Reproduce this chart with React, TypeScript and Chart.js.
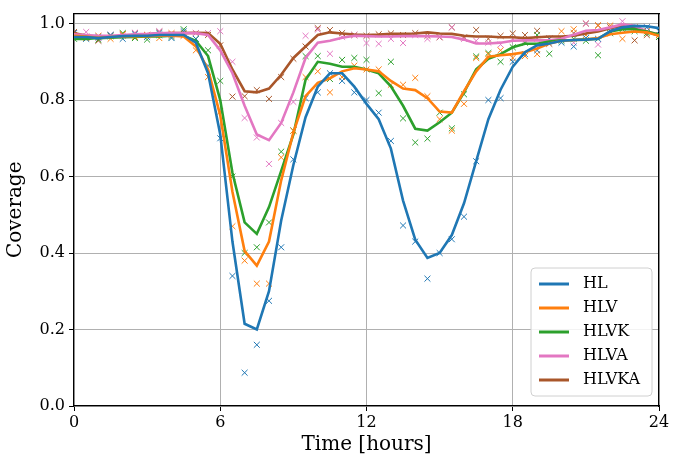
import { useEffect, useRef } from 'react';
import Chart from 'chart.js/auto';

// hours, half-hour steps
const hours = [
  0, 0.5, 1, 1.5, 2, 2.5, 3, 3.5, 4, 4.5, 5, 5.5, 6, 6.5, 7, 7.5, 8, 8.5, 9, 9.5,
  10, 10.5, 11, 11.5, 12, 12.5, 13, 13.5, 14, 14.5, 15, 15.5, 16, 16.5, 17, 17.5,
  18, 18.5, 19, 19.5, 20, 20.5, 21, 21.5, 22, 22.5, 23, 23.5, 24,
];

const seriesNames = ['HL', 'HLV', 'HLVK', 'HLVA', 'HLVKA'];
const seriesColors = ['#1f77b4', '#ff7f0e', '#2ca02c', '#e377c2', '#a9562a'];

// smoothed lines
const hlLine = [
  0.965, 0.965, 0.962, 0.965, 0.967, 0.968, 0.968, 0.97, 0.97, 0.97, 0.95, 0.87, 0.71, 0.43, 0.215, 0.2, 0.3, 0.485, 0.63, 0.755,
  0.835, 0.87, 0.87, 0.835, 0.79, 0.75, 0.673, 0.537, 0.435, 0.387, 0.4, 0.447, 0.53, 0.64, 0.75, 0.827,
  0.887, 0.925, 0.943, 0.948, 0.955, 0.957, 0.958, 0.96, 0.98, 0.99, 0.994, 0.993, 0.988,
];
const hlvLine = [
  0.968, 0.966, 0.963, 0.965, 0.966, 0.967, 0.967, 0.968, 0.968, 0.966, 0.94, 0.88, 0.76, 0.56, 0.405, 0.367, 0.43, 0.59, 0.715, 0.81,
  0.845, 0.857, 0.875, 0.883, 0.88, 0.875, 0.85, 0.83, 0.826, 0.805, 0.77, 0.767, 0.823, 0.875, 0.913, 0.917,
  0.92, 0.925, 0.935, 0.948, 0.955, 0.957, 0.958, 0.962, 0.972, 0.976, 0.979, 0.977, 0.968,
];
const hlvkLine = [
  0.96, 0.96, 0.962, 0.963, 0.964, 0.965, 0.966, 0.966, 0.968, 0.968, 0.955, 0.915, 0.8, 0.61, 0.48, 0.45, 0.52, 0.615, 0.71, 0.853,
  0.9, 0.895, 0.887, 0.887, 0.88, 0.87, 0.836, 0.785, 0.725, 0.72, 0.742, 0.767, 0.82, 0.88, 0.908, 0.92,
  0.938, 0.947, 0.947, 0.953, 0.956, 0.957, 0.959, 0.96, 0.979, 0.985, 0.985, 0.979, 0.971,
];
const hlvaLine = [
  0.972, 0.97, 0.968, 0.968, 0.97, 0.972, 0.973, 0.975, 0.975, 0.975, 0.975, 0.97, 0.93, 0.87, 0.785, 0.71, 0.695, 0.74, 0.82, 0.91,
  0.95, 0.955, 0.963, 0.968, 0.967, 0.966, 0.966, 0.967, 0.967, 0.967, 0.966, 0.965, 0.958, 0.948, 0.948, 0.95,
  0.955, 0.956, 0.956, 0.956, 0.96, 0.971, 0.981, 0.983, 0.99, 0.998, 0.994, 0.979, 0.971,
];
const hlvkaLine = [
  0.975, 0.968, 0.962, 0.965, 0.968, 0.97, 0.972, 0.974, 0.975, 0.975, 0.976, 0.975, 0.947, 0.88, 0.823, 0.82, 0.83, 0.866, 0.91, 0.94,
  0.97, 0.977, 0.974, 0.971, 0.97, 0.971, 0.973, 0.973, 0.974, 0.977, 0.974, 0.973, 0.968, 0.966, 0.966, 0.964,
  0.964, 0.962, 0.964, 0.966, 0.966, 0.968, 0.974, 0.979, 0.988, 0.994, 0.991, 0.979, 0.968,
];

// raw measurements (crosses)
const hlRaw = [
  0.975, 0.96, 0.965, 0.97, 0.96, 0.972, 0.965, 0.975, 0.962, 0.98, 0.96, 0.89, 0.7, 0.34, 0.087, 0.16, 0.275, 0.415, 0.645, 0.805,
  0.82, 0.87, 0.85, 0.82, 0.8, 0.767, 0.693, 0.472, 0.43, 0.333, 0.4, 0.436, 0.495, 0.64, 0.8, 0.805,
  0.9, 0.92, 0.93, 0.96, 0.95, 0.94, 0.962, 0.96, 0.98, 0.99, 0.985, 0.99, 0.98,
];
const hlvRaw = [
  0.97, 0.962, 0.968, 0.96, 0.972, 0.965, 0.97, 0.962, 0.975, 0.968, 0.93, 0.86, 0.77, 0.47, 0.38, 0.32, 0.32, 0.65, 0.72, 0.86,
  0.875, 0.82, 0.86, 0.89, 0.88, 0.88, 0.84, 0.84, 0.858, 0.81, 0.75, 0.72, 0.79, 0.91, 0.92, 0.93,
  0.91, 0.915, 0.92, 0.96, 0.98, 0.985, 0.97, 0.995, 0.995, 0.96, 0.99, 0.98, 0.97,
];
const hlvkRaw = [
  0.96, 0.965, 0.958, 0.968, 0.975, 0.962, 0.958, 0.97, 0.965, 0.985, 0.96, 0.93, 0.85, 0.6, 0.4, 0.415, 0.48, 0.665, 0.72, 0.915,
  0.915, 0.855, 0.905, 0.91, 0.905, 0.818, 0.9, 0.752, 0.689, 0.699, 0.767, 0.726, 0.815, 0.914, 0.923, 0.9,
  0.938, 0.95, 0.97, 0.921, 0.955, 0.96, 0.955, 0.917, 0.975, 0.985, 0.98, 0.975, 0.965,
];
const hlvaRaw = [
  0.975, 0.978, 0.962, 0.97, 0.968, 0.976, 0.97, 0.98, 0.972, 0.97, 0.975, 0.975, 0.98, 0.9, 0.753, 0.702, 0.633, 0.74, 0.795, 0.968,
  0.984, 0.921, 0.965, 0.97, 0.949, 0.947, 0.96, 0.949, 0.97, 0.96, 0.965, 0.99, 0.96, 0.955, 0.95, 0.945,
  0.96, 0.955, 0.96, 0.96, 0.96, 0.95, 1.0, 0.945, 0.98, 1.006, 0.99, 0.99, 0.97,
];
const hlvkaRaw = [
  0.978, 0.965, 0.955, 0.968, 0.972, 0.975, 0.97, 0.978, 0.97, 0.975, 0.975, 0.97, 0.943, 0.809, 0.81, 0.826, 0.803, 0.86, 0.908, 0.94,
  0.988, 0.983, 0.975, 0.97, 0.968, 0.972, 0.974, 0.97, 0.975, 0.968, 0.964, 0.99, 0.964, 0.983, 0.96, 0.968,
  0.974, 0.97, 0.981, 0.947, 0.96, 0.975, 1.0, 0.995, 0.99, 0.99, 0.956, 0.97, 0.965,
];

const lines = [hlLine, hlvLine, hlvkLine, hlvaLine, hlvkaLine];
const raws = [hlRaw, hlvRaw, hlvkRaw, hlvaRaw, hlvkaRaw];

const FONT = "'DejaVu Serif', serif";

// matplotlib-like legend in the lower right of the axes
const legendBox = {
  id: 'legendBox',
  afterDraw(chart: any) {
    const { ctx, chartArea } = chart;
    const w = 121;
    const h = 128;
    const x = chartArea.right - 7 - w;
    const y = chartArea.bottom - 10 - h;
    ctx.save();
    ctx.fillStyle = 'rgba(255,255,255,0.85)';
    ctx.strokeStyle = '#d0d0d0';
    ctx.lineWidth = 1;
    ctx.beginPath();
    ctx.roundRect(x, y, w, h, 4);
    ctx.fill();
    ctx.stroke();
    ctx.font = `16px ${FONT}`;
    ctx.textBaseline = 'middle';
    seriesNames.forEach((name, i) => {
      const ly = y + 16 + i * 24;
      ctx.strokeStyle = seriesColors[i];
      ctx.lineWidth = 3;
      ctx.beginPath();
      ctx.moveTo(x + 8, ly);
      ctx.lineTo(x + 38, ly);
      ctx.stroke();
      ctx.fillStyle = '#000';
      ctx.fillText(name, x + 52, ly);
    });
    ctx.restore();
  },
};

export default function App() {
  const chartRef = useRef<HTMLCanvasElement>(null);
  const chartInstance = useRef<Chart | null>(null);

  useEffect(() => {
    if (!chartRef.current) return;
    if (chartInstance.current) chartInstance.current.destroy();

    const datasets: any[] = [];
    seriesNames.forEach((name, i) => {
      datasets.push({
        type: 'line',
        label: name,
        data: hours.map((h, j) => ({ x: h, y: lines[i][j] })),
        borderColor: seriesColors[i],
        borderWidth: 2.6,
        pointRadius: 0,
        tension: 0,
        order: 1,
      });
      datasets.push({
        type: 'scatter',
        label: name + ' raw',
        data: hours.map((h, j) => ({ x: h, y: raws[i][j] })),
        borderColor: seriesColors[i],
        backgroundColor: seriesColors[i],
        pointStyle: 'crossRot',
        pointRadius: 4.2,
        borderWidth: 1,
        showLine: false,
        order: 2,
      });
    });

    chartInstance.current = new Chart(chartRef.current, {
      type: 'line',
      data: { datasets },
      options: {
        animation: false,
        responsive: false,
        layout: { padding: { left: 0, top: 0, right: 35, bottom: 0 } },
        scales: {
          x: {
            type: 'linear',
            min: 0,
            max: 24,
            ticks: { stepSize: 6, color: '#000', font: { family: FONT, size: 16 }, padding: 2 },
            grid: { color: '#b0b0b0', tickColor: '#000', tickLength: 5 },
            border: { color: '#000', width: 1.2 },
            title: { display: true, text: 'Time [hours]', color: '#000', font: { family: FONT, size: 20 }, padding: { top: 0 } },
            afterFit: (s: any) => { s.height = 55; },
          },
          y: {
            min: 0,
            max: 1.026,
            afterBuildTicks: (s: any) => {
              s.ticks = [0, 0.2, 0.4, 0.6, 0.8, 1.0].map((v) => ({ value: v }));
            },
            ticks: { color: '#000', font: { family: FONT, size: 16 }, callback: (v: any) => Number(v).toFixed(1), padding: 4 },
            grid: { color: '#b0b0b0', tickColor: '#000', tickLength: 5 },
            border: { color: '#000', width: 1.2 },
            title: { display: true, text: 'Coverage', color: '#000', font: { family: FONT, size: 20 } },
            afterFit: (s: any) => { s.width = 74; },
          },
          x2: {
            type: 'linear', position: 'top', min: 0, max: 24,
            ticks: { display: false }, grid: { display: false },
            border: { color: '#000', width: 1.2 },
            afterFit: (s: any) => { s.height = 6; },
          },
          y2: {
            position: 'right', min: 0, max: 1.026,
            ticks: { display: false }, grid: { display: false },
            border: { color: '#000', width: 1.2 },
            afterFit: (s: any) => { s.width = 0; },
          },
        },
        plugins: {
          legend: { display: false },
          tooltip: { enabled: false },
        },
      },
      plugins: [legendBox],
    });

    return () => {
      if (chartInstance.current) {
        chartInstance.current.destroy();
        chartInstance.current = null;
      }
    };
  }, []);

  return (
    <div style={{ position: 'fixed', left: 0, top: 0, width: 694, height: 461, background: '#fff' }}>
      <canvas ref={chartRef} width={694} height={461} style={{ width: 694, height: 461 }} />
    </div>
  );
}
